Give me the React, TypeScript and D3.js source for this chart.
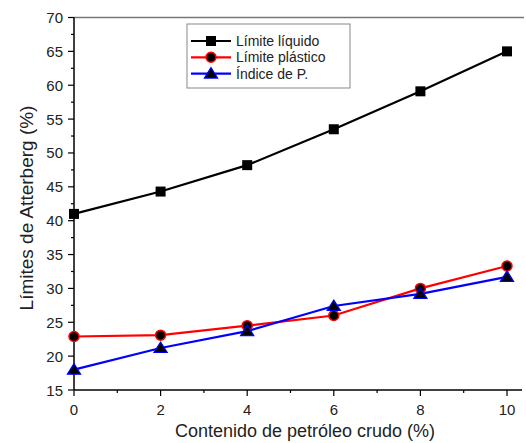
import React from "react";
import * as d3 from "d3";

const xValues = [0, 2, 4, 6, 8, 10];
const liquido = [41.0, 44.3, 48.2, 53.5, 59.1, 65.0];
const plastico = [22.9, 23.1, 24.5, 26.0, 30.0, 33.3];
const indice = [18.0, 21.2, 23.7, 27.4, 29.2, 31.7];
const seriesNames = ["Límite líquido", "Límite plástico", "Índice de P."];
const xTicks = [0, 2, 4, 6, 8, 10];
const xMinor = [1, 3, 5, 7, 9];
const yTicks = [15, 20, 25, 30, 35, 40, 45, 50, 55, 60, 65, 70];
const yMinor = [17.5, 22.5, 27.5, 32.5, 37.5, 42.5, 47.5, 52.5, 57.5, 62.5, 67.5];

const W = 526, H = 443;
const L = 74, R = 507, T = 17.5, B = 390;
const FONT = "Liberation Sans, Arial, sans-serif";

export default function App() {
  const x = d3.scaleLinear().domain([0, 10]).range([L, R]);
  const y = d3.scaleLinear().domain([15, 70]).range([B, T]);
  const line = d3.line<number>().x((_, i) => x(xValues[i])).y((v) => y(v));

  const series = [
    { name: seriesNames[0], data: liquido, color: "#000000", marker: "square" },
    { name: seriesNames[1], data: plastico, color: "#ff0000", marker: "circle" },
    { name: seriesNames[2], data: indice, color: "#0000ff", marker: "triangle" },
  ];

  const marker = (type: string, cx: number, cy: number, color: string, key: string) => {
    if (type === "square")
      return <rect key={key} x={cx - 5} y={cy - 5} width={10} height={10} fill="#000" />;
    if (type === "circle")
      return <circle key={key} cx={cx} cy={cy} r={5} fill="#000" stroke={color} strokeWidth={1.5} />;
    const s = 6;
    const pts = `${cx},${cy - s} ${cx - s * 1.1},${cy + s * 0.75} ${cx + s * 1.1},${cy + s * 0.75}`;
    return <polygon key={key} points={pts} fill="#000" stroke={color} strokeWidth={1.2} />;
  };

  const legX = 187, legY = 24;
  return (
    <svg width={W} height={H} style={{ position: "absolute", left: 0, top: 0, background: "#fff" }} fontFamily={FONT}>
      <rect width={W} height={H} fill="#fff" />
      <line x1={L} x2={524} y1={T} y2={T} stroke="#777" strokeWidth={1.5} />
      <line x1={L} x2={L} y1={T} y2={B} stroke="#000" strokeWidth={1.5} />
      <line x1={L} x2={522} y1={B} y2={B} stroke="#000" strokeWidth={1.5} />
      {xTicks.map((t) => (
        <g key={"xt" + t}>
          <line x1={x(t)} x2={x(t)} y1={B} y2={B + 6} stroke="#000" strokeWidth={1.2} />
          <text x={x(t)} y={415} textAnchor="middle" fontSize={15} fill="#222">{t}</text>
        </g>
      ))}
      {xMinor.map((t) => (
        <line key={"xm" + t} x1={x(t)} x2={x(t)} y1={B} y2={B + 3} stroke="#000" strokeWidth={1.2} />
      ))}
      {yTicks.map((t) => (
        <g key={"yt" + t}>
          <line x1={L - 6} x2={L} y1={y(t)} y2={y(t)} stroke="#000" strokeWidth={1.2} />
          <text x={63} y={y(t) + 5.5} textAnchor="end" fontSize={15} fill="#222">{t}</text>
        </g>
      ))}
      {yMinor.map((t) => (
        <line key={"ym" + t} x1={L - 3} x2={L} y1={y(t)} y2={y(t)} stroke="#000" strokeWidth={1.2} />
      ))}
      <text x={305} y={437} textAnchor="middle" fontSize={18} fill="#222">Contenido de petróleo crudo (%)</text>
      <text transform={`translate(33,208) rotate(-90)`} textAnchor="middle" fontSize={19} fill="#222">Límites de Atterberg (%)</text>

      {series.map((s) => (
        <path key={s.name} d={line(s.data) || ""} fill="none" stroke={s.color} strokeWidth={2.2} />
      ))}
      {series.map((s) => s.data.map((v, i) => marker(s.marker, x(xValues[i]), y(v), s.color, s.name + i)))}

      <rect x={legX} y={legY} width={163} height={64} fill="#fff" stroke="#888" strokeWidth={1} />
      {series.map((s, i) => {
        const cy = 41 + i * 16.3;
        return (
          <g key={"lg" + i}>
            <line x1={191} x2={231} y1={cy} y2={cy} stroke={s.color} strokeWidth={2.2} />
            {marker(s.marker, 211, cy, s.color, "lm" + i)}
            <text x={236} y={cy + 5} fontSize={14} fill="#222">{s.name}</text>
          </g>
        );
      })}
    </svg>
  );
}
